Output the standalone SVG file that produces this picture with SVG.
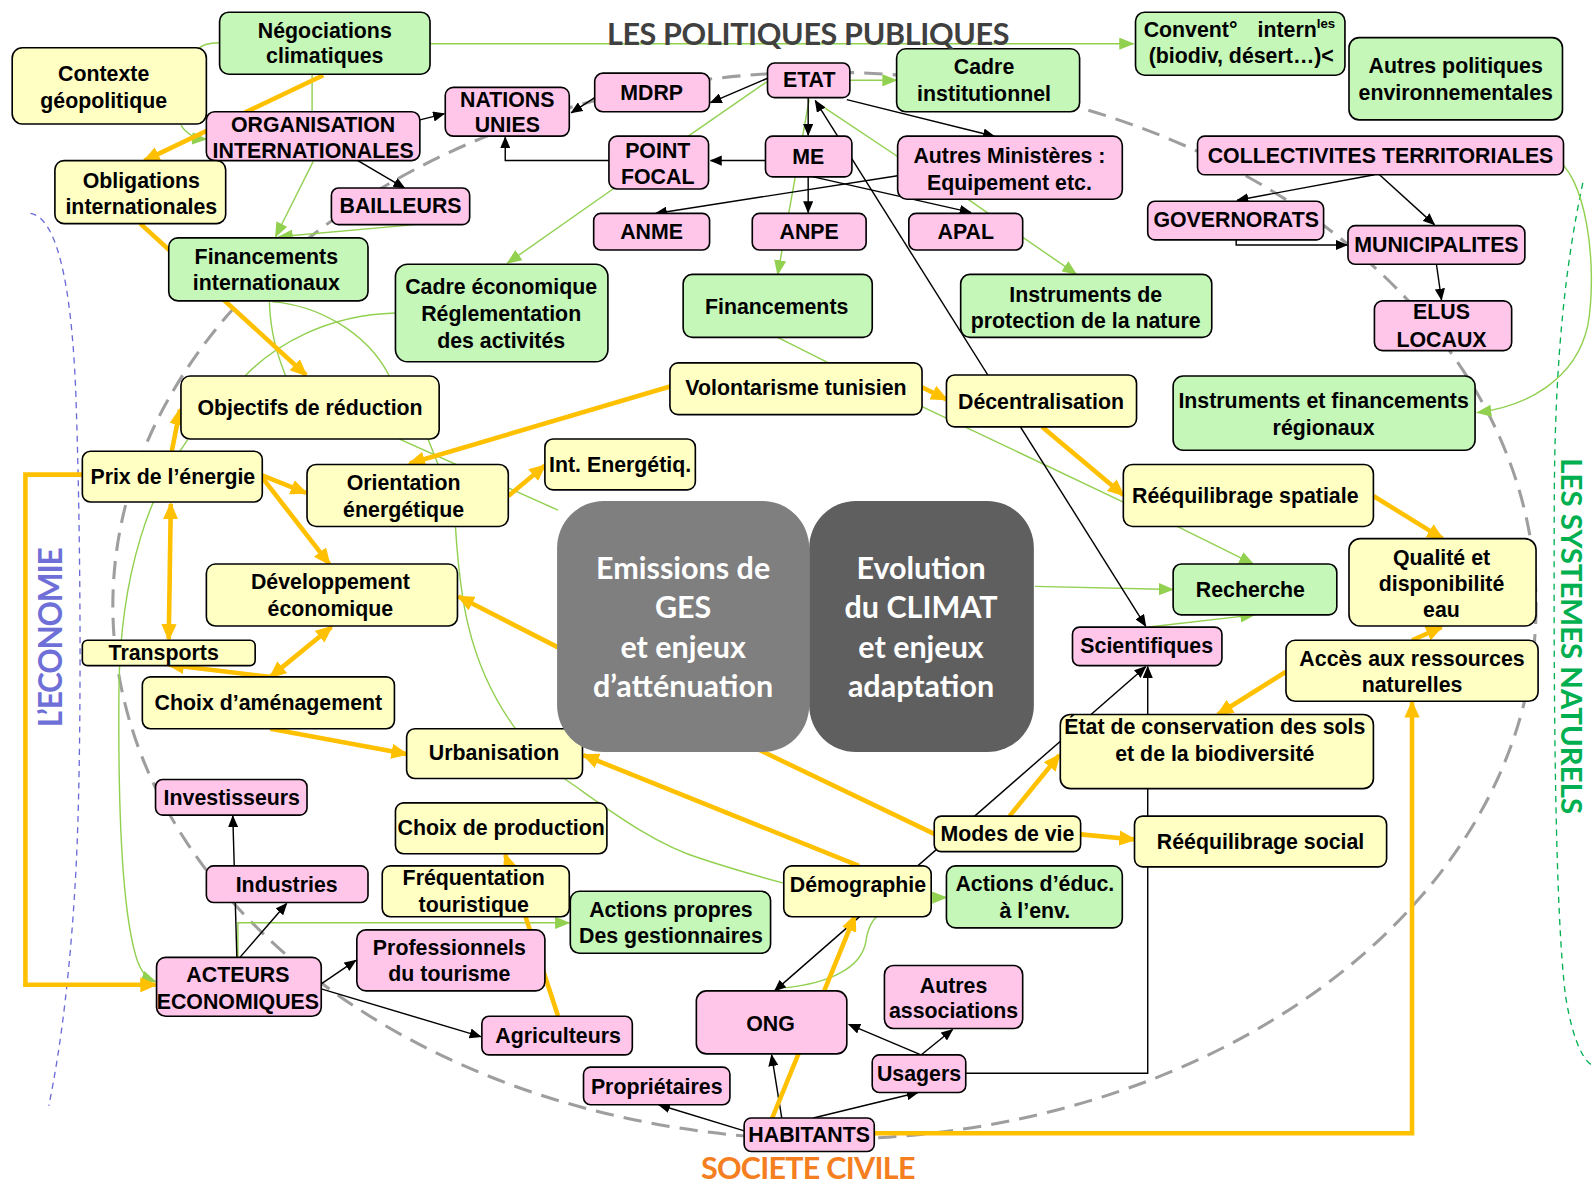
<svg xmlns="http://www.w3.org/2000/svg" width="1594" height="1184" viewBox="0 0 1594 1184">
<defs>
<style>
.bx{stroke:#000;stroke-width:1.6}
.fy{fill:#FFFFC4}.fg{fill:#C4F7B8}.fp{fill:#FFC6EA}
.t{font-family:"Liberation Sans",Arial,sans-serif;font-weight:bold;font-size:21px;text-anchor:middle;fill:#000}
.cg{stroke:#92D050;stroke-width:1.4;fill:none}
.cb{stroke:#000;stroke-width:1.4;fill:none}
.co{stroke:#FFC000;stroke-width:4.5;fill:none}
.lbl{font-family:Lato,"Liberation Sans",sans-serif;font-weight:bold;text-anchor:middle}
.ctr{font-family:Lato,"Liberation Sans",sans-serif;font-weight:bold;font-size:30px;fill:#fff;text-anchor:middle}
</style>
<marker id="ab" markerUnits="userSpaceOnUse" markerWidth="12" markerHeight="10" refX="11" refY="5" orient="auto-start-reverse"><path d="M0,0L12,5L0,10z" fill="#000"/></marker>
<marker id="ao" markerUnits="userSpaceOnUse" markerWidth="17" markerHeight="15" refX="15" refY="7.5" orient="auto-start-reverse"><path d="M0,0L17,7.5L0,15z" fill="#FFC000"/></marker>
<marker id="ag" markerUnits="userSpaceOnUse" markerWidth="15" markerHeight="12" refX="14" refY="6" orient="auto-start-reverse"><path d="M0,0L15,6L0,12z" fill="#92D050"/></marker>
</defs>
<rect width="1594" height="1184" fill="#fff"/>
<g transform="scale(1.01658 1.01631)">

<!-- background frames: economy, natural systems, civil-society ellipse -->
<g id="frames" fill="none">
<path d="M30,210 C60,215 72,300 75,400 C80,550 80,750 75,850 C70,950 60,1030 48,1088" stroke="#6B6BD8" stroke-width="1.3" stroke-dasharray="6,5"/>
<path d="M1557,180 C1540,260 1530,350 1529,480 C1528,700 1530,900 1540,980 C1548,1030 1560,1045 1566,1048" stroke="#00B050" stroke-width="1.3" stroke-dasharray="6,5"/>
<ellipse cx="811" cy="596" rx="700" ry="525" stroke="#9E9E9E" stroke-width="3" stroke-dasharray="18,10"/>
</g>

<!-- connectors -->
<g id="connectors">
<!-- green links -->
<path class="cg" d="M423,43 H1115" marker-end="url(#ag)"/>
<path class="cg" d="M216,42 C205,42 198,44 194,49"/>
<path class="cg" d="M178,123 Q186,136 203,137" marker-end="url(#ag)"/>
<path class="cg" d="M307,73 V110"/>
<path class="cg" d="M308,159 L271,233" marker-end="url(#ag)"/>
<path class="cg" d="M408,221 L274,233" marker-end="url(#ag)"/>
<path class="cg" d="M603,186 L499,259" marker-end="url(#ag)"/>
<path class="cg" d="M677,134 L755,80"/>
<path class="cg" d="M836,79 L882,79" marker-end="url(#ag)"/>
<path class="cg" d="M796,98 L765,270" marker-end="url(#ag)"/>
<path class="cg" d="M883,154 L802,100"/>
<path class="cg" d="M952,196 L1059,270" marker-end="url(#ag)"/>
<path class="cg" d="M765,332 L815,357"/>
<path class="cg" d="M907,400 L1105,494"/>
<path class="cg" d="M1158,518 L1233,555" marker-end="url(#ag)"/>
<path class="cg" d="M1130,617 L1234,605" marker-end="url(#ag)"/>
<path class="cg" d="M1018,577 L1154,580" marker-end="url(#ag)"/>
<path class="cg" d="M1528,155 C1560,170 1572,260 1562,320 C1550,375 1500,400 1453,406" marker-end="url(#ag)"/>
<path class="cg" d="M185,432 C150,480 118,560 117,680 C116,800 120,900 135,945 C140,958 145,963 153,966" marker-end="url(#ag)"/>
<path class="cg" d="M389,308 C320,310 270,340 241,370"/>
<path class="cg" d="M265,297 C266,330 274,352 281,370"/>
<path class="cg" d="M268,297 C310,300 360,325 383,370"/>
<path class="cg" d="M421,432 L431,457"/>
<path class="cg" d="M393,432 L549,502"/>
<path class="cg" d="M448,518 C452,580 458,650 507,717"/>
<path class="cg" d="M555,766 C590,790 640,830 690,845 C720,855 745,862 771,869"/>
<path class="cg" d="M234,942 V908 H560" marker-end="url(#ag)"/>
<path class="cg" d="M772,972 C810,968 848,955 852,925 C856,895 880,884 931,883" marker-end="url(#ag)"/>
<!-- black links -->
<path class="cb" d="M413,118 L437,112" marker-end="url(#ab)"/>
<path class="cb" d="M352,158 L398,185" marker-end="url(#ab)"/>
<path class="cb" d="M599,158 H497 V135" marker-end="url(#ab)"/>
<path class="cb" d="M753,158 H699" marker-end="url(#ab)"/>
<path class="cb" d="M755,77 L699,101" marker-end="url(#ab)"/>
<path class="cb" d="M585,96 L562,111" marker-end="url(#ab)"/>
<path class="cb" d="M795,96 V133" marker-end="url(#ab)"/>
<path class="cb" d="M833,98 L978,134" marker-end="url(#ab)"/>
<path class="cb" d="M795,174 V209" marker-end="url(#ab)"/>
<path class="cb" d="M800,174 L955,209" marker-end="url(#ab)"/>
<path class="cb" d="M883,173 L645,210" marker-end="url(#ab)"/>
<path class="cb" d="M802,99 L1127,616" marker-start="url(#ab)" marker-end="url(#ab)"/>
<path class="cb" d="M1352,172 L1217,197" marker-end="url(#ab)"/>
<path class="cb" d="M1357,172 L1411,221" marker-end="url(#ab)"/>
<path class="cb" d="M1216,236 V241 H1325" marker-end="url(#ab)"/>
<path class="cb" d="M1413,260 L1418,295" marker-end="url(#ab)"/>
<path class="cb" d="M233,942 L229,803" marker-end="url(#ab)"/>
<path class="cb" d="M236,942 L282,889" marker-end="url(#ab)"/>
<path class="cb" d="M316,968 L350,945" marker-end="url(#ab)"/>
<path class="cb" d="M316,973 L473,1020" marker-end="url(#ab)"/>
<path class="cb" d="M733,1113 L648,1087" marker-end="url(#ab)"/>
<path class="cb" d="M769,1100 L759,1038" marker-end="url(#ab)"/>
<path class="cb" d="M800,1100 L903,1075" marker-end="url(#ab)"/>
<path class="cb" d="M906,1038 L835,1008" marker-end="url(#ab)"/>
<path class="cb" d="M906,1038 L937,1013" marker-end="url(#ab)"/>
<path class="cb" d="M950,1056 H1129 V656" marker-end="url(#ab)"/>
<path class="cb" d="M1127,656 L762,975" marker-start="url(#ab)" marker-end="url(#ab)"/>
<!-- orange links -->
<path class="co" d="M318,74 L142,158" marker-end="url(#ao)"/>
<path class="co" d="M138,220 L301,369" marker-end="url(#ao)"/>
<path class="co" d="M660,380 L403,456" marker-end="url(#ao)"/>
<path class="co" d="M907,381 L931,393" marker-end="url(#ao)"/>
<path class="co" d="M1025,420 L1105,487" marker-end="url(#ao)"/>
<path class="co" d="M1351,488 L1419,530" marker-end="url(#ao)"/>
<path class="co" d="M1389,630 L1418,617" marker-end="url(#ao)"/>
<path class="co" d="M1265,661 L1198,703" marker-end="url(#ao)"/>
<path class="co" d="M860,1115 H1389 V691" marker-end="url(#ao)"/>
<path class="co" d="M81,467 H25 V969 H153" marker-end="url(#ao)"/>
<path class="co" d="M169,444 L177,403" marker-end="url(#ao)"/>
<path class="co" d="M256,467 L301,485" marker-end="url(#ao)"/>
<path class="co" d="M258,470 L324,555" marker-end="url(#ao)"/>
<path class="co" d="M168,496 L166,629" marker-start="url(#ao)" marker-end="url(#ao)"/>
<path class="co" d="M500,488 L536,458" marker-end="url(#ao)"/>
<path class="co" d="M549,637 L451,587" marker-end="url(#ao)"/>
<path class="co" d="M326,617 L266,666" marker-start="url(#ao)" marker-end="url(#ao)"/>
<path class="co" d="M265,666 L166,654" marker-end="url(#ao)"/>
<path class="co" d="M266,717 L400,742" marker-end="url(#ao)"/>
<path class="co" d="M845,852 L574,743" marker-end="url(#ao)"/>
<path class="co" d="M920,821 L745,737"/>
<path class="co" d="M993,803 L1042,743" marker-end="url(#ao)"/>
<path class="co" d="M1063,821 L1116,826" marker-end="url(#ao)"/>
<path class="co" d="M758,1104 L841,901" marker-end="url(#ao)"/>
<path class="co" d="M549,1000 L497,841" marker-end="url(#ao)"/>
</g>

<!-- nodes -->
<g id="nodes">
<g id="n-negociations"><rect class="bx fg" x="216" y="12" width="207" height="61" rx="9"/><text class="t" x="319.5" y="37">Négociations<tspan x="319.5" y="62">climatiques</tspan></text></g>
<g id="n-contexte"><rect class="bx fy" x="12" y="47" width="191" height="75" rx="10"/><text class="t" x="102" y="80">Contexte<tspan x="102" y="106">géopolitique</tspan></text></g>
<g id="n-org-int"><rect class="bx fp" x="203" y="110" width="210" height="48" rx="8"/><text class="t" x="308" y="130">ORGANISATION<tspan x="308" y="155">INTERNATIONALES</tspan></text></g>
<g id="n-nations-unies"><rect class="bx fp" x="438" y="86" width="122" height="48" rx="8"/><text class="t" x="499" y="105">NATIONS<tspan x="499" y="130">UNIES</tspan></text></g>
<g id="n-mdrp"><rect class="bx fp" x="585" y="72" width="113" height="38" rx="8"/><text class="t" x="641" y="98">MDRP</text></g>
<g id="n-etat"><rect class="bx fp" x="755" y="62" width="81" height="34" rx="7"/><text class="t" x="796" y="86">ETAT</text></g>
<g id="n-cadre-inst"><rect class="bx fg" x="882" y="48" width="180" height="62" rx="9"/><text class="t" x="968" y="73">Cadre<tspan x="968" y="99">institutionnel</tspan></text></g>
<g id="n-convent"><rect class="bx fg" x="1117" y="12" width="206" height="62" rx="9"/><text class="t" x="1125" y="36" style="text-anchor:start">Convent°<tspan x="1237">intern</tspan><tspan font-size="13" dy="-8">les</tspan></text><text class="t" x="1221" y="62">(biodiv, désert…)&lt;</text></g>
<g id="n-autres-pol"><rect class="bx fg" x="1327" y="37" width="210" height="81" rx="10"/><text class="t" x="1432" y="72">Autres politiques<tspan x="1432" y="98">environnementales</tspan></text></g>
<g id="n-obligations"><rect class="bx fy" x="54" y="158" width="168" height="62" rx="9"/><text class="t" x="139" y="185">Obligations<tspan x="139" y="211">internationales</tspan></text></g>
<g id="n-bailleurs"><rect class="bx fp" x="326" y="185" width="136" height="36" rx="7"/><text class="t" x="394" y="210">BAILLEURS</text></g>
<g id="n-point-focal"><rect class="bx fp" x="599" y="134" width="98" height="52" rx="8"/><text class="t" x="647" y="155">POINT<tspan x="647" y="181">FOCAL</tspan></text></g>
<g id="n-me"><rect class="bx fp" x="753" y="134" width="85" height="40" rx="7"/><text class="t" x="795" y="161">ME</text></g>
<g id="n-autres-min"><rect class="bx fp" x="883" y="134" width="221" height="62" rx="9"/><text class="t" x="993" y="160">Autres Ministères :<tspan x="993" y="187">Equipement etc.</tspan></text></g>
<g id="n-collectivites"><rect class="bx fp" x="1178" y="134" width="360" height="38" rx="7"/><text class="t" x="1358" y="160">COLLECTIVITES TERRITORIALES</text></g>
<g id="n-anme"><rect class="bx fp" x="584" y="210" width="114" height="36" rx="7"/><text class="t" x="641" y="235">ANME</text></g>
<g id="n-anpe"><rect class="bx fp" x="740" y="210" width="112" height="36" rx="7"/><text class="t" x="796" y="235">ANPE</text></g>
<g id="n-apal"><rect class="bx fp" x="894" y="210" width="112" height="36" rx="7"/><text class="t" x="950" y="235">APAL</text></g>
<g id="n-governorats"><rect class="bx fp" x="1129" y="198" width="173" height="38" rx="7"/><text class="t" x="1216" y="223">GOVERNORATS</text></g>
<g id="n-municipalites"><rect class="bx fp" x="1326" y="222" width="174" height="38" rx="7"/><text class="t" x="1413" y="248">MUNICIPALITES</text></g>
<g id="n-fin-int"><rect class="bx fg" x="166" y="234" width="196" height="62" rx="9"/><text class="t" x="262" y="260">Financements<tspan x="262" y="285">internationaux</tspan></text></g>
<g id="n-cadre-eco"><rect class="bx fg" x="389" y="260" width="209" height="96" rx="12"/><text class="t" x="493" y="289">Cadre économique<tspan x="493" y="316">Réglementation</tspan><tspan x="493" y="342">des activités</tspan></text></g>
<g id="n-financements"><rect class="bx fg" x="672" y="270" width="186" height="62" rx="9"/><text class="t" x="764" y="309">Financements</text></g>
<g id="n-instr-prot"><rect class="bx fg" x="945" y="270" width="247" height="62" rx="9"/><text class="t" x="1068" y="297">Instruments de<tspan x="1068" y="323">protection de la nature</tspan></text></g>
<g id="n-elus"><rect class="bx fp" x="1352" y="296" width="135" height="49" rx="8"/><text class="t" x="1418" y="314">ELUS<tspan x="1418" y="341">LOCAUX</tspan></text></g>
<g id="n-objectifs"><rect class="bx fy" x="178" y="370" width="254" height="62" rx="9"/><text class="t" x="305" y="408">Objectifs de réduction</text></g>
<g id="n-volontarisme"><rect class="bx fy" x="659" y="357" width="248" height="51" rx="8"/><text class="t" x="783" y="389">Volontarisme tunisien</text></g>
<g id="n-decentralisation"><rect class="bx fy" x="931" y="369" width="187" height="51" rx="8"/><text class="t" x="1024" y="402">Décentralisation</text></g>
<g id="n-instr-reg"><rect class="bx fg" x="1154" y="370" width="297" height="73" rx="10"/><text class="t" x="1302" y="401">Instruments et financements<tspan x="1302" y="428">régionaux</tspan></text></g>
<g id="n-prix"><rect class="bx fy" x="81" y="444" width="177" height="50" rx="8"/><text class="t" x="170" y="476">Prix de l’énergie</text></g>
<g id="n-orientation"><rect class="bx fy" x="302" y="457" width="198" height="61" rx="9"/><text class="t" x="397" y="482">Orientation<tspan x="397" y="509">énergétique</tspan></text></g>
<g id="n-int-energ"><rect class="bx fy" x="536" y="432" width="148" height="50" rx="8"/><text class="t" x="610" y="464">Int. Energétiq.</text></g>
<g id="n-reeq-spatiale"><rect class="bx fy" x="1105" y="457" width="246" height="61" rx="9"/><text class="t" x="1225" y="495">Rééquilibrage spatiale</text></g>
<g id="n-qualite"><rect class="bx fy" x="1327" y="530" width="184" height="86" rx="11"/><text class="t" x="1418" y="556">Qualité et<tspan x="1418" y="582">disponibilité</tspan><tspan x="1418" y="607">eau</tspan></text></g>
<g id="n-developpement"><rect class="bx fy" x="203" y="555" width="247" height="61" rx="9"/><text class="t" x="325" y="580">Développement<tspan x="325" y="606">économique</tspan></text></g>
<g id="n-recherche"><rect class="bx fg" x="1154" y="555" width="161" height="50" rx="8"/><text class="t" x="1230" y="587">Recherche</text></g>
<g id="n-transports"><rect class="bx fy" x="81" y="630" width="170" height="25" rx="5"/><text class="t" x="161" y="649">Transports</text></g>
<g id="n-scientifiques"><rect class="bx fp" x="1055" y="617" width="147" height="38" rx="7"/><text class="t" x="1128" y="643">Scientifiques</text></g>
<g id="n-acces"><rect class="bx fy" x="1265" y="630" width="248" height="60" rx="9"/><text class="t" x="1389" y="655">Accès aux ressources<tspan x="1389" y="681">naturelles</tspan></text></g>
<g id="n-choix-amen"><rect class="bx fy" x="140" y="666" width="248" height="51" rx="8"/><text class="t" x="264" y="699">Choix d’aménagement</text></g>
<g id="n-urbanisation"><rect class="bx fy" x="400" y="717" width="173" height="49" rx="8"/><text class="t" x="486" y="748">Urbanisation</text></g>
<g id="n-etat-conserv"><rect class="bx fy" x="1043" y="703" width="308" height="73" rx="10"/><text class="t" x="1195" y="722">État de conservation des sols<tspan x="1195" y="749">et de la biodiversité</tspan></text></g>
<g id="n-investisseurs"><rect class="bx fp" x="153" y="767" width="149" height="35" rx="7"/><text class="t" x="228" y="792">Investisseurs</text></g>
<g id="n-choix-prod"><rect class="bx fy" x="389" y="790" width="208" height="50" rx="8"/><text class="t" x="493" y="822">Choix de production</text></g>
<g id="n-modes"><rect class="bx fy" x="919" y="803" width="144" height="35" rx="7"/><text class="t" x="991" y="828">Modes de vie</text></g>
<g id="n-reeq-social"><rect class="bx fy" x="1116" y="803" width="248" height="50" rx="8"/><text class="t" x="1240" y="835">Rééquilibrage social</text></g>
<g id="n-industries"><rect class="bx fp" x="203" y="852" width="159" height="36" rx="7"/><text class="t" x="282" y="878">Industries</text></g>
<g id="n-frequentation"><rect class="bx fy" x="376" y="852" width="184" height="50" rx="8"/><text class="t" x="466" y="871">Fréquentation<tspan x="466" y="897">touristique</tspan></text></g>
<g id="n-demographie"><rect class="bx fy" x="771" y="852" width="145" height="50" rx="8"/><text class="t" x="844" y="878">Démographie</text></g>
<g id="n-actions-educ"><rect class="bx fg" x="931" y="852" width="173" height="61" rx="9"/><text class="t" x="1018" y="877">Actions d’éduc.<tspan x="1018" y="903">à l’env.</tspan></text></g>
<g id="n-actions-propres"><rect class="bx fg" x="561" y="877" width="197" height="61" rx="9"/><text class="t" x="660" y="902">Actions propres<tspan x="660" y="928">Des gestionnaires</tspan></text></g>
<g id="n-professionnels"><rect class="bx fp" x="351" y="915" width="185" height="60" rx="9"/><text class="t" x="442" y="940">Professionnels<tspan x="442" y="965">du tourisme</tspan></text></g>
<g id="n-acteurs"><rect class="bx fp" x="154" y="942" width="162" height="58" rx="9"/><text class="t" x="234" y="966">ACTEURS<tspan x="234" y="993">ECONOMIQUES</tspan></text></g>
<g id="n-autres-assoc"><rect class="bx fp" x="870" y="950" width="136" height="62" rx="9"/><text class="t" x="938" y="977">Autres<tspan x="938" y="1002">associations</tspan></text></g>
<g id="n-ong"><rect class="bx fp" x="685" y="975" width="148" height="62" rx="10"/><text class="t" x="758" y="1014">ONG</text></g>
<g id="n-agriculteurs"><rect class="bx fp" x="474" y="1000" width="148" height="38" rx="7"/><text class="t" x="549" y="1026">Agriculteurs</text></g>
<g id="n-usagers"><rect class="bx fp" x="858" y="1038" width="92" height="37" rx="7"/><text class="t" x="904" y="1064">Usagers</text></g>
<g id="n-proprietaires"><rect class="bx fp" x="574" y="1050" width="144" height="37" rx="7"/><text class="t" x="646" y="1076">Propriétaires</text></g>
<g id="n-habitants"><rect class="bx fp" x="732" y="1100" width="128" height="33" rx="7"/><text class="t" x="796" y="1124">HABITANTS</text></g>

<g id="n-emissions"><rect x="548" y="493" width="248" height="247" rx="46" fill="#7F7F7F"/><text class="ctr" x="672" y="570">Emissions de<tspan x="672" y="608">GES</tspan><tspan x="672" y="647">et enjeux</tspan><tspan x="672" y="686">d’atténuation</tspan></text></g>
<g id="n-evolution"><rect x="796" y="493" width="221" height="247" rx="46" fill="#5F5F5F"/><text class="ctr" x="906" y="570">Evolution<tspan x="906" y="608">du CLIMAT</tspan><tspan x="906" y="647">et enjeux</tspan><tspan x="906" y="686">adaptation</tspan></text></g>
</g>

<!-- sphere titles -->
<g id="titles">
<text class="lbl" x="795" y="44" font-size="30" fill="#404040" textLength="396">LES POLITIQUES PUBLIQUES</text>
<text class="lbl" x="795" y="1160" font-size="30" fill="#F47E20" textLength="211">SOCIETE CIVILE</text>
<text class="lbl" transform="translate(61,627) rotate(-90)" font-size="31" fill="#6F6FD8" textLength="177">L’ECONOMIE</text>
<text class="lbl" transform="translate(1536,626) rotate(90)" font-size="29" fill="#00B050" textLength="350">LES SYSTEMES NATURELS</text>
</g>
</g>
</svg>
